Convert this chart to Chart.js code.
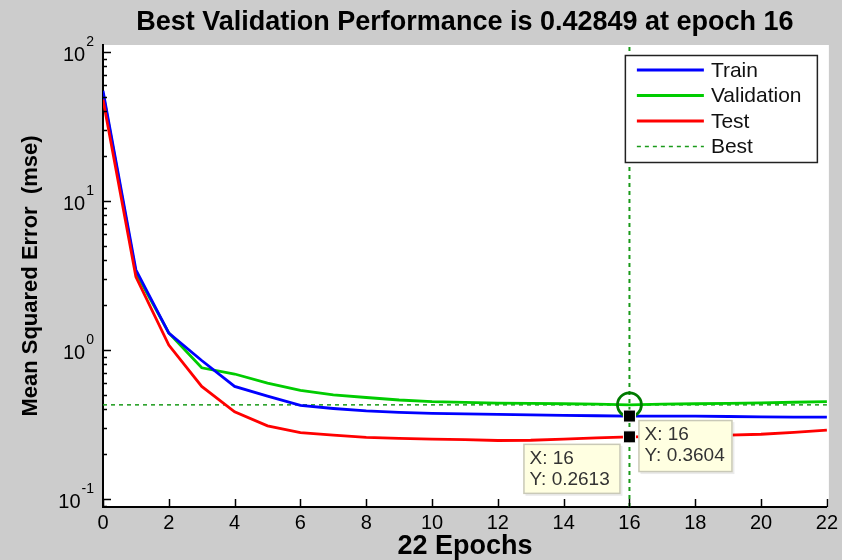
<!DOCTYPE html>
<html>
<head>
<meta charset="utf-8">
<script src="https://cdn.jsdelivr.net/npm/chart.js@4.4.0/dist/chart.umd.min.js"></script>
<style>
  html, body { margin: 0; padding: 0; background: #cccccc; }
  #wrap { width: 842px; height: 560px; }
</style>
</head>
<body>
<div id="wrap"><canvas id="chart" width="842" height="560"></canvas></div>
<script>
// Training record (mse per epoch)
const epochs = [0, 1, 2, 3, 4, 5, 6, 7, 8, 9, 10, 11, 12, 13, 14, 15, 16, 17, 18, 19, 20, 21, 22];
const trainMse = [55, 3.45, 1.3, 0.85, 0.57, 0.49, 0.425, 0.405, 0.39, 0.382, 0.376, 0.373, 0.37, 0.367, 0.364, 0.362, 0.3604, 0.3604, 0.3604, 0.358, 0.356, 0.355, 0.354];
const validationMse = [53, 3.3, 1.3, 0.76, 0.69, 0.6, 0.535, 0.5, 0.48, 0.462, 0.45, 0.445, 0.44, 0.438, 0.436, 0.433, 0.42849, 0.434, 0.436, 0.438, 0.442, 0.446, 0.45];
const testMse = [48, 3.1, 1.08, 0.57, 0.385, 0.31, 0.279, 0.268, 0.259, 0.255, 0.252, 0.25, 0.247, 0.248, 0.252, 0.257, 0.2613, 0.262, 0.264, 0.268, 0.272, 0.28, 0.29];

const bestEpoch = 16;
const bestValue = 0.42849;
const titleText = "Best Validation Performance is 0.42849 at epoch 16";

const xTicks = [0, 2, 4, 6, 8, 10, 12, 14, 16, 18, 20, 22];
const yDecades = [0.1, 1, 10, 100];
const yMin = 0.0884;
const yMax = 111.4;

const dataTips = [
  { epoch: 16, value: 0.3604, text: ["X: 16", "Y: 0.3604"], side: "right" },
  { epoch: 16, value: 0.2613, text: ["X: 16", "Y: 0.2613"], side: "left" },
];

const FONT = '"Liberation Sans", Arial, sans-serif';
const BEST_GREEN = "#1a9a1a";
Chart.defaults.font.family = FONT;
Chart.defaults.color = "#000";

// minor ticks on the log axis: 2..9 inside every decade
const yMinor = [];
yDecades.forEach((d) => {
  for (let m = 2; m <= 9; m++) {
    if (d * m >= yMin && d * m <= yMax) yMinor.push(d * m);
  }
});
if (0.09 >= yMin) yMinor.push(0.09);

const pts = (ys) => epochs.map((e, i) => ({ x: e, y: ys[i] }));

// white axes box on the grey figure
const plotBg = {
  id: "plotBg",
  beforeDraw(chart) {
    const { ctx, chartArea: a } = chart;
    ctx.save();
    ctx.fillStyle = "#fff";
    ctx.fillRect(a.left, a.top, a.right - a.left + 2, a.bottom - a.top);
    ctx.restore();
  },
};

// MATLAB style: ticks point into the plot, decades as 10^n
const axesDecor = {
  id: "axesDecor",
  afterDatasetsDraw(chart) {
    const { ctx, chartArea: a, scales: { x, y } } = chart;
    ctx.save();
    ctx.strokeStyle = "#000";
    ctx.lineWidth = 1.5;
    ctx.beginPath();
    xTicks.forEach((v) => {
      const px = Math.round(x.getPixelForValue(v)) + 0.5;
      ctx.moveTo(px, a.bottom);
      ctx.lineTo(px, a.bottom - 8);
    });
    yDecades.forEach((v) => {
      const py = Math.round(y.getPixelForValue(v)) + 0.5;
      ctx.moveTo(a.left, py);
      ctx.lineTo(a.left + 8, py);
    });
    yMinor.forEach((v) => {
      const py = Math.round(y.getPixelForValue(v)) + 0.5;
      ctx.moveTo(a.left, py);
      ctx.lineTo(a.left + 4, py);
    });
    ctx.stroke();

    // decade labels
    ctx.fillStyle = "#000";
    ctx.textAlign = "right";
    yDecades.forEach((v) => {
      const py = y.getPixelForValue(v);
      const exp = String(Math.round(Math.log10(v)));
      ctx.font = "14px " + FONT;
      const ew = ctx.measureText(exp).width;
      ctx.textBaseline = "alphabetic";
      ctx.fillText(exp, a.left - 9, py - 6);
      ctx.font = "20px " + FONT;
      ctx.fillText("10", a.left - 10 - ew, py + 9);
    });

    // title over the plot box
    ctx.font = "bold 27px " + FONT;
    ctx.textAlign = "center";
    ctx.textBaseline = "middle";
    ctx.fillText(titleText, (a.left + a.right) / 2, 23);
    ctx.restore();
  },
};

const legendBox = {
  id: "legendBox",
  afterDraw(chart) {
    const { ctx, chartArea: a } = chart;
    const w = 192, h = 107;
    const left = a.right - 10 - w, top = a.top + 10;
    ctx.save();
    ctx.fillStyle = "#fff";
    ctx.fillRect(left, top, w, h);
    ctx.strokeStyle = "#222";
    ctx.lineWidth = 1.5;
    ctx.strokeRect(left + 0.5, top + 0.5, w, h);
    const rows = [
      { label: "Train", color: "#0000ff", dash: [] },
      { label: "Validation", color: "#00cc00", dash: [] },
      { label: "Test", color: "#ff0000", dash: [] },
      { label: "Best", color: BEST_GREEN, dash: [4, 4] },
    ];
    ctx.font = "21px " + FONT;
    ctx.textBaseline = "middle";
    ctx.textAlign = "left";
    rows.forEach((r, i) => {
      const yy = top + 15 + i * 25.5;
      ctx.strokeStyle = r.color;
      ctx.lineWidth = r.dash.length ? 1.5 : 2.8;
      ctx.setLineDash(r.dash);
      ctx.beginPath();
      ctx.moveTo(left + 12, yy);
      ctx.lineTo(left + 79, yy);
      ctx.stroke();
      ctx.fillStyle = "#111";
      ctx.fillText(r.label, left + 86, yy + 1);
    });
    ctx.restore();
  },
};

const tipBoxes = {
  id: "tipBoxes",
  afterDraw(chart) {
    const { ctx, scales: { x, y } } = chart;
    ctx.save();
    dataTips.forEach((t) => {
      const px = x.getPixelForValue(t.epoch);
      const py = y.getPixelForValue(t.value);
      const w = t.side === "right" ? 94 : 97;
      const h = t.side === "right" ? 52 : 50;
      const left = t.side === "right" ? px + 9 : px - 9 - w;
      const top = t.side === "right" ? py + 4 : py + 7;
      ctx.fillStyle = "rgba(0,0,0,0.08)";
      ctx.fillRect(left + 2, top + 2, w, h);
      ctx.fillStyle = "#ffffe1";
      ctx.fillRect(left, top, w, h);
      ctx.strokeStyle = "#c9c9b8";
      ctx.lineWidth = 1.5;
      ctx.strokeRect(left + 0.5, top + 0.5, w - 1, h - 1);
      ctx.fillStyle = "#333";
      ctx.font = "19px " + FONT;
      ctx.textAlign = "left";
      ctx.textBaseline = "middle";
      ctx.fillText(t.text[0], left + 6, top + 15);
      ctx.fillText(t.text[1], left + 6, top + 36);
    });
    ctx.restore();
  },
};

new Chart(document.getElementById("chart"), {
  type: "line",
  data: {
    datasets: [
      {
        label: "Test",
        data: pts(testMse),
        borderColor: "#ff0000",
        borderWidth: 2.8,
        pointRadius: 0,
        order: 1,
      },
      {
        label: "Train",
        data: pts(trainMse),
        borderColor: "#0000ff",
        borderWidth: 2.8,
        pointRadius: 0,
        order: 2,
      },
      {
        label: "Validation",
        data: pts(validationMse),
        borderColor: "#00cc00",
        borderWidth: 2.8,
        pointRadius: 0,
        order: 3,
      },
      {
        label: "Best",
        data: [{ x: 0, y: bestValue }, { x: 22, y: bestValue }],
        borderColor: BEST_GREEN,
        borderWidth: 1.5,
        borderDash: [4, 4],
        pointRadius: 0,
        order: 4,
      },
      {
        label: "Best epoch",
        data: [{ x: bestEpoch, y: yMin }, { x: bestEpoch, y: yMax }],
        borderColor: BEST_GREEN,
        borderWidth: 2,
        borderDash: [4, 4],
        pointRadius: 0,
        order: 4,
      },
      {
        label: "Best marker",
        data: [{ x: bestEpoch, y: bestValue }],
        showLine: false,
        pointRadius: 12,
        pointBorderWidth: 2.8,
        pointBorderColor: "#007a00",
        pointBackgroundColor: "rgba(0,0,0,0)",
        order: 0,
      },
      {
        label: "Tips",
        data: dataTips.map((t) => ({ x: t.epoch, y: t.value })),
        showLine: false,
        pointStyle: "rect",
        pointRadius: 8.5,
        pointBorderWidth: 1,
        pointBorderColor: "#fff",
        pointBackgroundColor: "#000",
        order: -1,
      },
    ],
  },
  options: {
    responsive: false,
    animation: false,
    devicePixelRatio: 1,
    layout: { padding: { top: 45, right: 13, left: 0, bottom: 0 } },
    plugins: {
      legend: { display: false },
      tooltip: { enabled: false },
      title: { display: false },
    },
    scales: {
      x: {
        type: "linear",
        min: 0,
        max: 22,
        afterBuildTicks: (s) => {
          s.ticks = xTicks.map((v) => ({ value: v }));
        },
        afterFit: (s) => {
          s.height = 53;
        },
        ticks: {
          font: { size: 20 },
          color: "#000",
          padding: 4,
          maxRotation: 0,
          autoSkip: false,
        },
        grid: { display: false, drawTicks: false },
        border: { display: true, color: "#000", width: 2 },
        title: {
          display: true,
          text: "22 Epochs",
          color: "#000",
          font: { size: 27, weight: "bold", lineHeight: 1 },
          padding: { top: 0, bottom: 0 },
        },
      },
      y: {
        type: "logarithmic",
        min: yMin,
        max: yMax,
        afterBuildTicks: (s) => {
          s.ticks = yDecades.map((v) => ({ value: v }));
        },
        afterFit: (s) => {
          s.width = 103;
        },
        ticks: { callback: () => "" },
        grid: { display: false, drawTicks: false },
        border: { display: true, color: "#000", width: 2 },
        title: {
          display: true,
          text: "Mean Squared Error  (mse)",
          color: "#000",
          font: { size: 22, weight: "bold" },
          padding: { top: 18, bottom: 0 },
        },
      },
    },
  },
  plugins: [plotBg, axesDecor, legendBox, tipBoxes],
});
</script>
</body>
</html>
